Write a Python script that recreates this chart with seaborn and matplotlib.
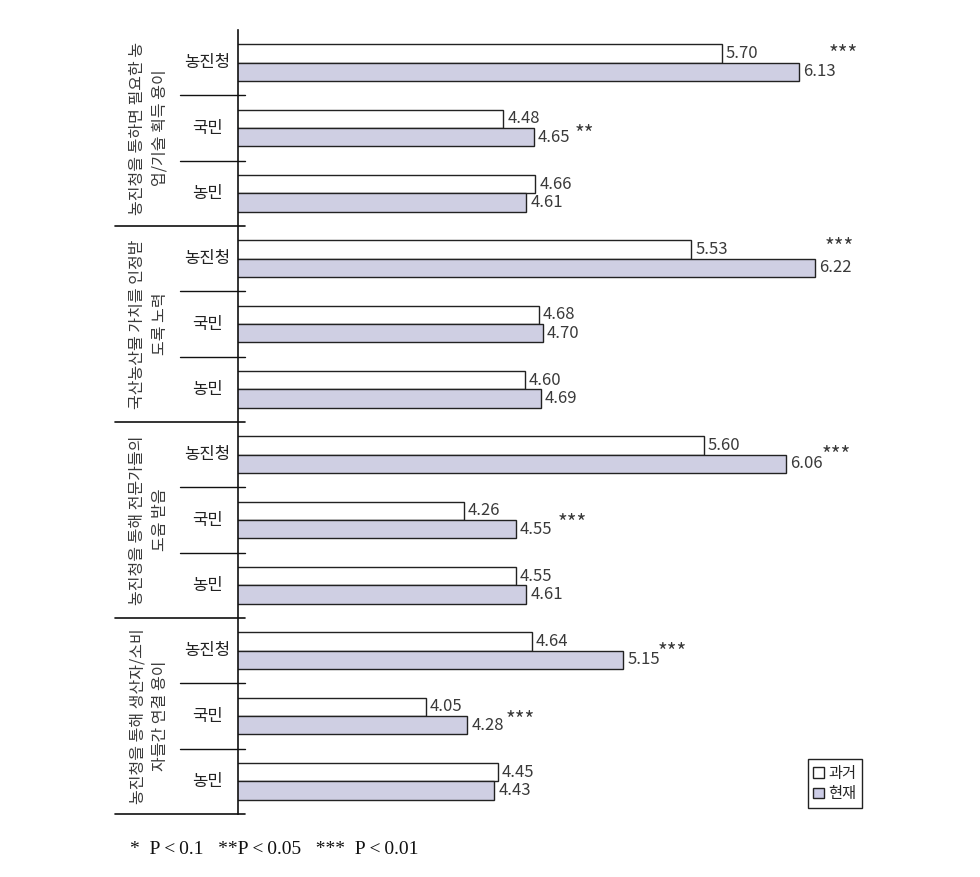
import matplotlib
matplotlib.use("Agg")
import matplotlib.pyplot as plt
import seaborn as sns
import pandas as pd
from matplotlib.patches import Patch

# data
groups = [
    ("농진청을 통하면 필요한 농", "업/기술 획득 용이"),
    ("국산농산물 가치를 인정받", "도록 노력"),
    ("농진청을 통해 전문가들의", "도움 받음"),
    ("농진청을 통해 생산자/소비", "자들간 연결 용이"),
]
subjects = ["농진청", "국민", "농민"]
periods = ["과거", "현재"]
past = [5.70, 4.48, 4.66, 5.53, 4.68, 4.60, 5.60, 4.26, 4.55, 4.64, 4.05, 4.45]
now = [6.13, 4.65, 4.61, 6.22, 4.70, 4.69, 6.06, 4.55, 4.61, 5.15, 4.28, 4.43]
stars = ["***", "**", "", "***", "", "", "***", "***", "", "***", "***", ""]

# star placement: pixel offsets from the end of the 현재 bar (dx right, dy down)
star_offsets = [(30, -2), (41, 13), None, (10, -5), None, None,
                (35, 7), (42, 10), None, (34, 8), (38, 11), None]

rows = [f"{g}_{s}" for g in range(len(groups)) for s in subjects]
df = pd.DataFrame({
    "row": rows * 2,
    "period": [periods[0]] * len(rows) + [periods[1]] * len(rows),
    "value": past + now,
})

sns.set_style("white")
plt.rcParams["font.family"] = ["Noto Sans CJK KR", "DejaVu Sans"]

fig = plt.figure(figsize=(9.8, 8.77), dpi=100)
ax = fig.add_axes([238 / 980, 1 - 814 / 877, 627 / 980, 784 / 877])

sns.barplot(data=df, y="row", x="value", hue="period", orient="h",
            palette=["white", "#CCCCE6"], width=0.56, edgecolor="#222222",
            linewidth=1, ax=ax, legend=False)

ax.set_xlim(3, 6.5)
ax.set_ylim(len(rows) - 0.5, -0.5)
ax.set_xticks([])
ax.set_yticks([])
ax.set_xlabel("")
ax.set_ylabel("")
for side in ["top", "right", "bottom"]:
    ax.spines[side].set_visible(False)
ax.spines["left"].set_color("#111111")
ax.spines["left"].set_linewidth(1.2)

# value labels
for i in range(len(rows)):
    ax.annotate(f"{past[i]:.2f}", xy=(past[i], i - 0.14), xytext=(4, 0),
                textcoords="offset pixels", ha="left", va="center",
                fontsize=12, color="#3a3a3a")
    ax.annotate(f"{now[i]:.2f}", xy=(now[i], i + 0.14), xytext=(4, 0),
                textcoords="offset pixels", ha="left", va="center",
                fontsize=12, color="#3a3a3a")
    if stars[i]:
        dx, dy = star_offsets[i]
        ax.annotate(stars[i], xy=(now[i], i), xytext=(dx, -dy),
                    textcoords="offset pixels", ha="left", va="baseline",
                    fontsize=15, color="#3a3a3a")

# label area on the left
tr = ax.get_yaxis_transform()
for i in range(len(rows)):
    ax.text(-0.049, i, subjects[i % 3], transform=tr, ha="center",
            va="center", fontsize=12, color="#222222")
    if i % 3 != 2:
        ax.plot([-0.0925, 0.011], [i + 0.5, i + 0.5], transform=tr,
                color="#111111", lw=1, clip_on=False)
    else:
        ax.plot([-0.196, 0.011], [i + 0.5, i + 0.5], transform=tr,
                color="#111111", lw=1.2, clip_on=False)

for g, (line1, line2) in enumerate(groups):
    yc = g * 3 + 1
    ax.text(-0.160, yc, line1, transform=tr, rotation=90, ha="center",
            va="center", fontsize=11.5, color="#3a3a3a")
    ax.text(-0.124, yc, line2, transform=tr, rotation=90, ha="center",
            va="center", fontsize=11.5, color="#3a3a3a")

handles = [Patch(facecolor="white", edgecolor="#222222", lw=1),
           Patch(facecolor="#CCCCE6", edgecolor="#222222", lw=1)]
leg = ax.legend(handles, periods, loc="lower right",
                bbox_to_anchor=(0.995, 0.008), fancybox=False,
                edgecolor="#222222", framealpha=1, fontsize=11,
                handlelength=0.7, handleheight=0.7, handletextpad=0.3,
                borderpad=0.35, labelspacing=0.25, borderaxespad=0)
leg.get_frame().set_linewidth(1)

fig.text(130 / 980, 1 - 850 / 877,
         "*  P\u2009<\u20090.1   **P\u2009<\u20090.05   ***  P\u2009<\u20090.01",
         family=["Liberation Serif", "DejaVu Serif"], fontsize=14,
         va="center", ha="left", color="#111111")

fig.savefig("out.png", dpi=100, facecolor="white")
